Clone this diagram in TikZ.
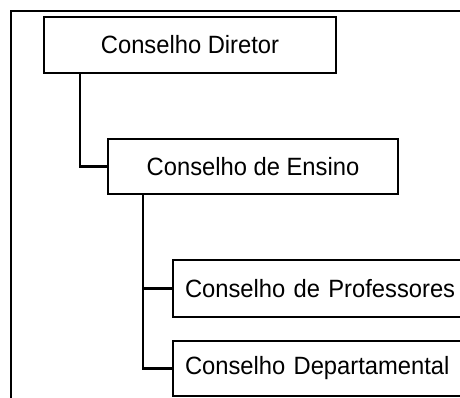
\documentclass[tikz,border=0pt]{standalone}
\usepackage{fontspec}
\setmainfont[FakeStretch=0.95]{Liberation Sans}
\usetikzlibrary{positioning,calc}
\tikzset{
	box/.style={rectangle, draw=black, line width=2.2pt, outer sep=0pt, minimum height=56pt, font=\fontsize{25}{30}\selectfont},
	wide/.style={box, text width=290pt, inner xsep=12pt, align=left},
	connect/.style={line width=2.2pt}
}
\begin{document}
\begin{tikzpicture}[x=1pt,y=-1pt]
\useasboundingbox (0,0) rectangle (460,398);
\clip (0,0) rectangle (460,398);
% outer frame
\draw[connect] (11,11) rectangle (480,420);
\node[box, minimum width=292pt, anchor=north west] (Diretor) at (44,17) {Conselho Diretor};
\node[box, minimum width=290pt, minimum height=55pt, anchor=north west] (Ensino) at (108,139) {Conselho de Ensino};
\node[wide, minimum height=57pt, anchor=north west] (Professores) at (173,260) {Conselho de Professores};
\node[wide, minimum height=55pt, anchor=north west] (Departamental) at (173,341) {Conselho Departamental};
\draw[connect] ([xshift=36pt]Diretor.south west) |- (Ensino.west);
\draw[connect] ([xshift=35pt]Ensino.south west) |- (Professores.west);
\draw[connect] ([xshift=35pt]Ensino.south west) |- (Departamental.west);
\end{tikzpicture}
\end{document}
